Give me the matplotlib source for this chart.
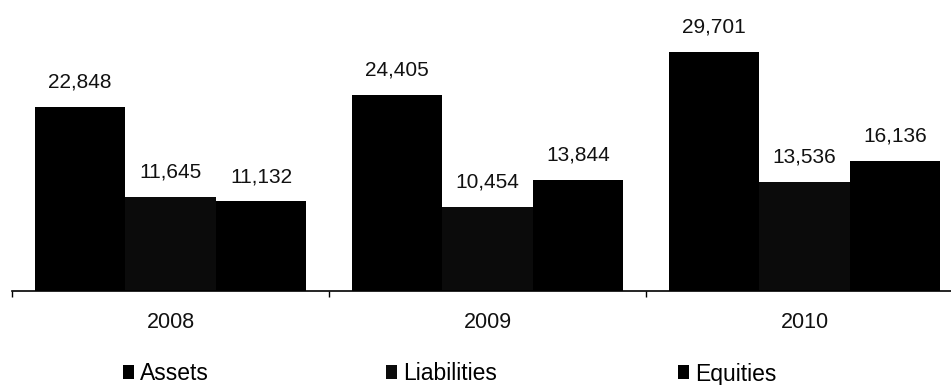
import matplotlib
matplotlib.use("Agg")
import matplotlib.pyplot as plt
import numpy as np

years = ["2008", "2009", "2010"]
series = ["Assets", "Liabilities", "Equities"]
assets = [22848, 24405, 29701]
liabilities = [11645, 10454, 13536]
equities = [11132, 13844, 16136]

plt.rcParams["font.family"] = ["Liberation Sans", "DejaVu Sans"]

W, H = 951, 385
fig = plt.figure(figsize=(W / 100, H / 100), dpi=100)
left_px, base_px = 12, 291
ax = fig.add_axes([left_px / W, (H - base_px) / H, (W - left_px) / W, base_px / H])

x = np.arange(len(years))
bw = 0.286
colors = ["#000000", "#0b0b0b", "#000000"]
values = [assets, liabilities, equities]
bars = []
for i, (name, vals, c) in enumerate(zip(series, values, colors)):
    b = ax.bar(x + (i - 1) * bw, vals, bw, color=c, label=name, linewidth=0)
    bars.append(b)
    for xi, v in zip(x + (i - 1) * bw, vals):
        ax.annotate(f"{v:,}", (xi, v), xytext=(0, 11), textcoords="offset points",
                    ha="center", va="bottom", fontsize=15, color="#111111")

ax.set_xlim(-0.5, -0.5 + (W - left_px) / 317)
ax.set_ylim(0, base_px / 8.05 * 1000)
for s in ["top", "right", "left"]:
    ax.spines[s].set_visible(False)
ax.spines["bottom"].set_linewidth(1.2)
ax.set_yticks([])
ax.set_xticks([-0.5, 0.5, 1.5], minor=False)
ax.set_xticklabels([])
ax.tick_params(axis="x", length=4, width=1, direction="out")
for xi, yr in zip(x, years):
    ax.text(xi, -31 / base_px, yr, transform=ax.get_xaxis_transform(), ha="center",
            va="center", fontsize=15.5, color="#111111")

# legend entries spread along the bottom
legend_x = [123, 386, 678]
for b, name, lx in zip(bars, series, legend_x):
    fig.legend([b], [name], loc="center left", bbox_to_anchor=(lx / W, 1 - 374 / H),
               frameon=False, fontsize=16.5, handlelength=0.5, handleheight=0.55,
               handletextpad=0.25, borderaxespad=0, borderpad=0)

fig.savefig("out.png", dpi=100)
